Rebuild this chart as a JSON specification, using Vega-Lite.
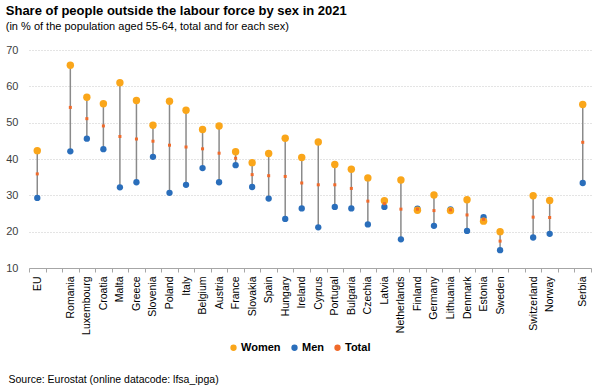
{
  "$schema": "https://vega.github.io/schema/vega-lite/v6.json",
  "padding": {"left": 5, "top": 5, "right": 6, "bottom": 4},
  "background": "white",
  "width": 562,
  "height": 218,
  "title": {
    "text": "Share of people outside the labour force by sex in 2021",
    "subtitle": "(in % of the population aged 55-64, total and for each sex)",
    "anchor": "start",
    "font": "Liberation Sans",
    "fontSize": 13,
    "fontWeight": "bold",
    "color": "#000000",
    "subtitleFont": "Liberation Sans",
    "subtitleFontSize": 11,
    "subtitleColor": "#000000",
    "subtitlePadding": 3,
    "offset": 12
  },
  "config": {
    "view": {"stroke": null},
    "font": "Liberation Sans"
  },
  "data": {
    "values": [
      {"country": "EU", "Women": 42.3, "Men": 29.3, "Total": 35.9},
      {"country": "Romania", "Women": 65.8, "Men": 42.1, "Total": 54.2},
      {"country": "Luxembourg", "Women": 57.0, "Men": 45.6, "Total": 51.1},
      {"country": "Croatia", "Women": 55.2, "Men": 42.7, "Total": 49.1},
      {"country": "Malta", "Women": 61.0, "Men": 32.2, "Total": 46.2},
      {"country": "Greece", "Women": 56.1, "Men": 33.6, "Total": 45.5},
      {"country": "Slovenia", "Women": 49.3, "Men": 40.6, "Total": 44.9},
      {"country": "Poland", "Women": 55.9, "Men": 30.7, "Total": 43.8},
      {"country": "Italy", "Women": 53.4, "Men": 32.9, "Total": 43.3},
      {"country": "Belgium", "Women": 48.1, "Men": 37.5, "Total": 42.8},
      {"country": "Austria", "Women": 49.1, "Men": 33.6, "Total": 41.6},
      {"country": "France", "Women": 42.0, "Men": 38.3, "Total": 40.2},
      {"country": "Slovakia", "Women": 39.0, "Men": 32.3, "Total": 35.7},
      {"country": "Spain", "Women": 41.5, "Men": 29.1, "Total": 35.4},
      {"country": "Hungary", "Women": 45.7, "Men": 23.5, "Total": 35.2},
      {"country": "Ireland", "Women": 40.4, "Men": 26.4, "Total": 33.4},
      {"country": "Cyprus", "Women": 44.7, "Men": 21.2, "Total": 32.9},
      {"country": "Portugal", "Women": 38.5, "Men": 26.8, "Total": 32.9},
      {"country": "Bulgaria", "Women": 37.2, "Men": 26.4, "Total": 31.9},
      {"country": "Czechia", "Women": 34.8, "Men": 22.0, "Total": 28.4},
      {"country": "Latvia", "Women": 28.5, "Men": 26.8, "Total": 27.7},
      {"country": "Netherlands", "Women": 34.2, "Men": 17.9, "Total": 26.2},
      {"country": "Finland", "Women": 25.9, "Men": 26.3, "Total": 26.2},
      {"country": "Germany", "Women": 30.1, "Men": 21.6, "Total": 25.8},
      {"country": "Lithuania", "Women": 25.8, "Men": 26.1, "Total": 26.0},
      {"country": "Denmark", "Women": 28.8, "Men": 20.2, "Total": 24.6},
      {"country": "Estonia", "Women": 22.9, "Men": 24.0, "Total": 23.4},
      {"country": "Sweden", "Women": 20.0, "Men": 14.9, "Total": 17.4},
      {"country": "Switzerland", "Women": 29.9, "Men": 18.4, "Total": 24.0},
      {"country": "Norway", "Women": 28.6, "Men": 19.4, "Total": 23.9},
      {"country": "Serbia", "Women": 55.0, "Men": 33.4, "Total": 44.6}
    ]
  },
  "encoding": {
    "x": {
      "field": "country",
      "type": "nominal",
      "scale": {
        "domain": ["EU", " ", "Romania", "Luxembourg", "Croatia", "Malta", "Greece", "Slovenia", "Poland", "Italy", "Belgium", "Austria", "France", "Slovakia", "Spain", "Hungary", "Ireland", "Cyprus", "Portugal", "Bulgaria", "Czechia", "Latvia", "Netherlands", "Finland", "Germany", "Lithuania", "Denmark", "Estonia", "Sweden", "  ", "Switzerland", "Norway", "   ", "Serbia"],
        "paddingInner": 0,
        "paddingOuter": 0
      },
      "axis": {
        "title": "Source: Eurostat (online datacode: lfsa_ipga)",
        "titleFont": "Liberation Sans",
        "titleFontSize": 10.5,
        "titleFontWeight": "normal",
        "titleColor": "#000000",
        "titleAnchor": "start",
        "titleAlign": "left",
        "titleBaseline": "alphabetic",
        "titleX": -21,
        "titleY": 114,
        "labelAngle": -90,
        "labelAlign": "right",
        "labelBaseline": "middle",
        "labelFontSize": 10.5,
        "labelColor": "#000000",
        "labelPadding": 4,
        "tickBand": "extent",
        "tickSize": 4,
        "tickColor": "#a6a6a6",
        "domainColor": "#a6a6a6",
        "grid": false
      }
    }
  },
  "layer": [
    {
      "mark": {"type": "rule", "color": "#8a8a8a", "strokeWidth": 1.5},
      "encoding": {
        "y": {
          "field": "Women",
          "type": "quantitative",
          "scale": {"domain": [10, 70], "nice": false},
          "axis": {
            "title": null,
            "values": [10, 20, 30, 40, 50, 60, 70],
            "tickCount": 7,
            "labelOverlap": false,
            "labelFontSize": 11,
            "labelColor": "#404040",
            "labelPadding": 11,
            "ticks": false,
            "domain": false,
            "gridColor": "#c8c8c8",
            "gridDash": [1, 2],
            "gridWidth": 1
          }
        },
        "y2": {"field": "Men"}
      }
    },
    {
      "mark": {"type": "circle", "size": 40, "opacity": 1},
      "encoding": {
        "y": {"field": "Men", "type": "quantitative"},
        "color": {
          "datum": "Men",
          "scale": {"domain": ["Women", "Men", "Total"], "range": ["#faa61a", "#2a6ebb", "#f06a2a"]},
          "legend": {
            "title": null,
            "orient": "none",
            "direction": "horizontal",
            "legendX": 199,
            "legendY": 292,
            "symbolType": "circle",
            "symbolSize": 40,
            "labelFontSize": 11,
            "labelFontWeight": "bold",
            "labelColor": "#000000",
            "labelOffset": 2,
            "columnPadding": 8
          }
        }
      }
    },
    {
      "mark": {"type": "circle", "size": 55, "opacity": 1},
      "encoding": {
        "y": {"field": "Women", "type": "quantitative"},
        "color": {"datum": "Women"}
      }
    },
    {
      "mark": {"type": "square", "size": 9, "opacity": 1},
      "encoding": {
        "y": {"field": "Total", "type": "quantitative"},
        "color": {"datum": "Total"}
      }
    }
  ]
}
